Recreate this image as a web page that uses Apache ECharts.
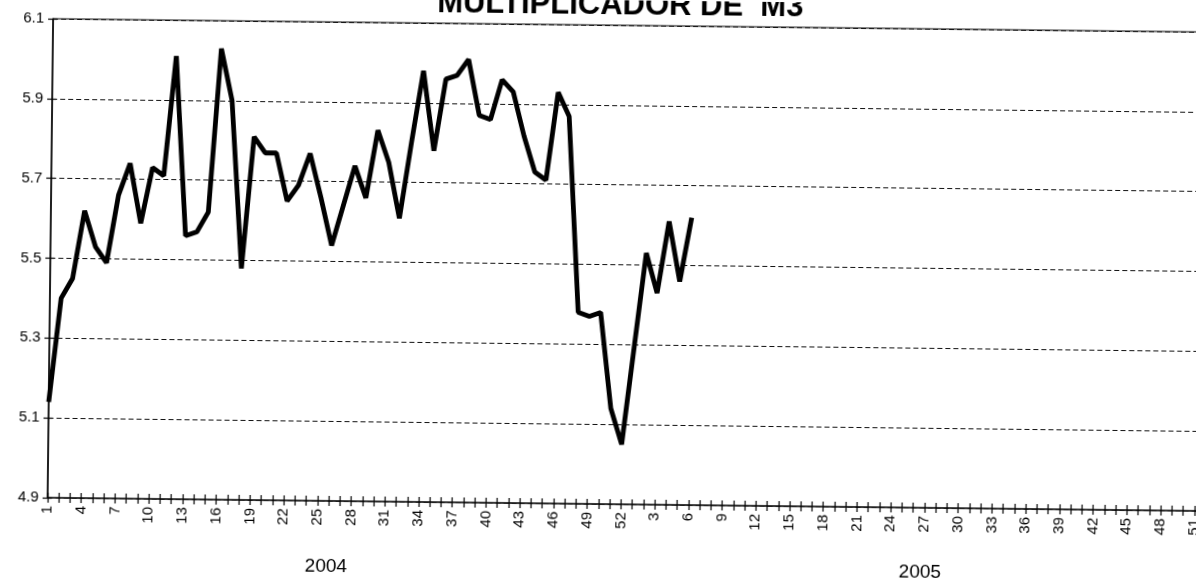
<!DOCTYPE html>
<html>
<head>
<meta charset="utf-8">
<title>Multiplicador de M3</title>
<script src="https://cdn.jsdelivr.net/npm/echarts@6/dist/echarts.min.js"></script>
<style>
  html, body { margin: 0; padding: 0; background: #fff; overflow: hidden; }
  /* the scanned original is slightly tilted, so the whole chart is turned a little */
  #chart { width: 1220px; height: 586px; transform-origin: 598px 293px; transform: rotate(0.66deg); }
</style>
</head>
<body>
<div id="chart"></div>
<script>
const titleText = 'MULTIPLICADOR DE  M3'
const yearLabels = ['2004', '2005']

const weeks2004 = [1, 2, 3, 4, 5, 6, 7, 8, 9, 10, 11, 12, 13, 14, 15, 16, 17, 18, 19, 20, 21, 22, 23, 24, 25, 26,
    27, 28, 29, 30, 31, 32, 33, 34, 35, 36, 37, 38, 39, 40, 41, 42, 43, 44, 45, 46, 47, 48, 49, 50, 51, 52]
const weeks2005 = [1, 2, 3, 4, 5, 6, 7, 8, 9, 10, 11, 12, 13, 14, 15, 16, 17, 18, 19, 20, 21, 22, 23, 24, 25, 26,
    27, 28, 29, 30, 31, 32, 33, 34, 35, 36, 37, 38, 39, 40, 41, 42, 43, 44, 45, 46, 47, 48, 49, 50, 51, 52]

const values2004 = [5.14, 5.40, 5.45, 5.62, 5.53, 5.49, 5.66, 5.74, 5.59, 5.73, 5.71, 6.01, 5.56,
    5.57, 5.62, 6.03, 5.90, 5.48, 5.81, 5.77, 5.77, 5.65, 5.69, 5.77, 5.66, 5.54,
    5.64, 5.74, 5.66, 5.83, 5.75, 5.61, 5.80, 5.98, 5.78, 5.96, 5.97, 6.01, 5.87,
    5.86, 5.96, 5.93, 5.82, 5.73, 5.71, 5.93, 5.87, 5.38, 5.37, 5.38, 5.14, 5.05]
const values2005 = [5.29, 5.53, 5.43, 5.61, 5.46, 5.62]

const yMin = 4.9
const yMax = 6.1
const yStep = 0.2

const categories = weeks2004.concat(weeks2005).map(String)
const seriesData = values2004.concat(values2005)

const chart = echarts.init(document.getElementById('chart'), null, { renderer: 'canvas' })

const font = '"Liberation Sans", Arial, sans-serif'

const baseX = {
    type: 'category',
    data: categories,
    boundaryGap: false,
    position: 'bottom'
}
const baseY = {
    type: 'value',
    min: yMin,
    max: yMax,
    interval: yStep
}

const option = {
    backgroundColor: '#fff',
    animation: false,
    grid: {
        left: 50,
        top: 25,
        right: 12,
        bottom: 82,
        show: true,
        borderColor: '#000',
        borderWidth: 1
    },
    xAxis: [
        Object.assign({}, baseX, {
            axisLine: { lineStyle: { color: '#222', width: 1.5 } },
            axisTick: { interval: 0, length: 5, lineStyle: { color: '#000', width: 1.2 } },
            axisLabel: {
                interval: 2,
                rotate: 90,
                margin: 8,
                color: '#000',
                fontSize: 15,
                fontFamily: font
            },
            splitLine: { show: false }
        }),
        // second axis only for the inner half of the cross-shaped ticks
        Object.assign({}, baseX, {
            axisLine: { show: false },
            axisTick: { inside: true, interval: 0, length: 5, lineStyle: { color: '#000', width: 1.2 } },
            axisLabel: { show: false },
            splitLine: { show: false }
        })
    ],
    yAxis: [
        Object.assign({}, baseY, {
            axisLine: { show: true, lineStyle: { color: '#000', width: 1.5 } },
            axisTick: { show: true, length: 5, lineStyle: { color: '#000', width: 1.2 } },
            axisLabel: {
                margin: 9,
                color: '#000',
                fontSize: 15,
                fontFamily: font,
                formatter: v => v.toFixed(1)
            },
            splitLine: { show: true, lineStyle: { color: '#111', width: 1, type: [5, 3] } }
        }),
        Object.assign({}, baseY, {
            position: 'left',
            axisLine: { show: false },
            axisTick: { show: true, inside: true, length: 4, lineStyle: { color: '#000', width: 1.2 } },
            axisLabel: { show: false },
            splitLine: { show: false }
        })
    ],
    graphic: [
        {
            type: 'text',
            x: 617,
            y: 5,
            style: {
                text: titleText,
                align: 'center',
                verticalAlign: 'middle',
                fill: '#000',
                font: 'bold 31px ' + font
            }
        },
        {
            type: 'text',
            x: 329,
            y: 570,
            style: {
                text: yearLabels[0],
                align: 'center',
                verticalAlign: 'middle',
                fill: '#000',
                font: '19px ' + font
            }
        },
        {
            type: 'text',
            x: 923,
            y: 569,
            style: {
                text: yearLabels[1],
                align: 'center',
                verticalAlign: 'middle',
                fill: '#000',
                font: '19px ' + font
            }
        }
    ],
    series: [{
        name: 'M3',
        type: 'line',
        xAxisIndex: 0,
        yAxisIndex: 0,
        data: seriesData,
        showSymbol: false,
        symbol: 'none',
        lineStyle: { color: '#000', width: 4.8 }
    }]
}

chart.setOption(option)
</script>
</body>
</html>
